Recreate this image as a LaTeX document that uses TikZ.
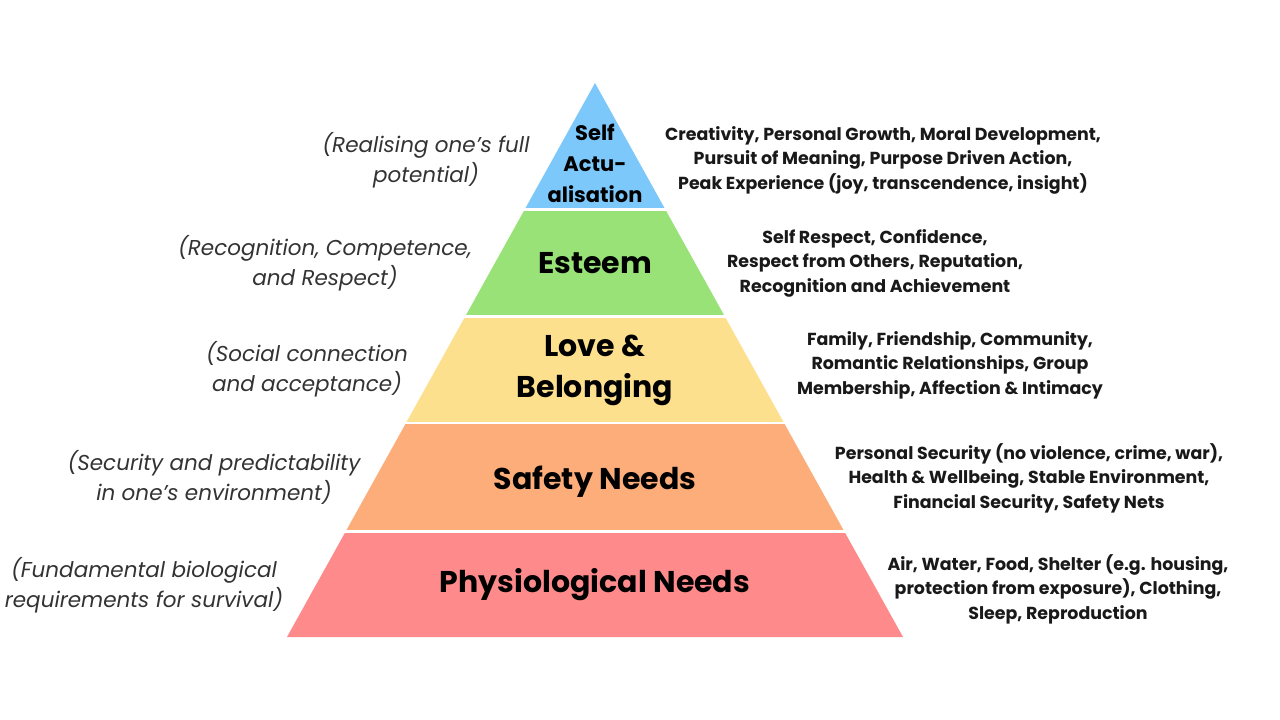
\documentclass[tikz,border=0pt]{standalone}
\usepackage{fontspec}
\setmainfont{Poppins}
\definecolor{cblue}{RGB}{124,200,250}
\definecolor{cgreen}{RGB}{152,226,120}
\definecolor{cyellow}{RGB}{253,224,142}
\definecolor{corange}{RGB}{252,173,122}
\definecolor{cred}{RGB}{254,138,139}
\newcommand\pyrband[3]{%
  \begin{scope}
    \clip (0,#1) rectangle (1280,#2);
    \fill[#3] (595,83) -- (903,637) -- (287,637) -- cycle;
  \end{scope}}
\begin{document}
\begin{tikzpicture}[x=1pt,y=-1pt,
  title/.style={align=center,text=black,font=\bfseries\fontsize{30}{41}\selectfont,inner sep=0pt},
  desc/.style={align=center,text=black!90,font=\bfseries\fontsize{17.4}{24.5}\selectfont,inner sep=0pt},
  note/.style={align=center,text=black!80,font=\itshape\fontsize{21.5}{30}\selectfont,inner sep=0pt}]
\useasboundingbox (0,0) rectangle (1280,720);
\fill[white] (0,0) rectangle (1280,720);
\pyrband{80}{207}{cblue}
\pyrband{211}{314}{cgreen}
\pyrband{318}{421}{cyellow}
\pyrband{424.5}{529}{corange}
\pyrband{533}{640}{cred}
% titles
\node[title,font=\bfseries\fontsize{21}{31}\selectfont] (t1) at (595,163) {Self\\Actu-\\alisation};
\node[title] (t2) at (595,263) {Esteem};
\node[title] (t3) at (595,370) {Love \&\\Belonging};
\node[title] (t4) at (595,482) {Safety Needs};
\node[title] (t5) at (595,585) {Physiological Needs};
% descriptions
\node[desc] (d1) at (883,160) {Creativity, Personal Growth, Moral Development,\\Pursuit of Meaning, Purpose Driven Action,\\Peak Experience (joy, transcendence, insight)};
\node[desc] (d2) at (875,263) {Self Respect, Confidence,\\Respect from Others, Reputation,\\Recognition and Achievement};
\node[desc] (d3) at (950,365) {Family, Friendship, Community,\\Romantic Relationships, Group\\Membership, Affection \& Intimacy};
\node[desc] (d4) at (1029,478) {Personal Security (no violence, crime, war),\\Health \& Wellbeing, Stable Environment,\\Financial Security, Safety Nets};
\node[desc] (d5) at (1058,589) {Air, Water, Food, Shelter (e.g. housing,\\protection from exposure), Clothing,\\Sleep, Reproduction};
% notes
\node[note] (n1) at (426,160) {(Realising one’s full\\potential)};
\node[note] (n2) at (325,263) {(Recognition, Competence,\\and Respect)};
\node[note] (n3) at (307,369) {(Social connection\\and acceptance)};
\node[note] (n4) at (214,477) {(Security and predictability\\in one’s environment)};
\node[note] (n5) at (144,585) {(Fundamental biological\\requirements for survival)};
\end{tikzpicture}
\end{document}
